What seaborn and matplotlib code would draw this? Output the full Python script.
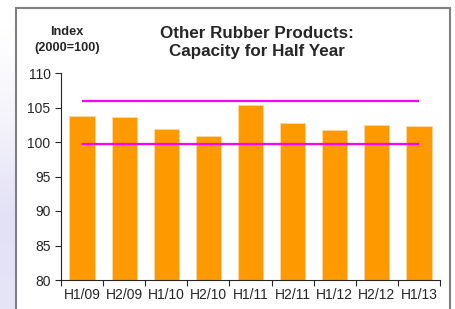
import matplotlib
matplotlib.use("Agg")
import matplotlib.pyplot as plt
from matplotlib.patches import Rectangle
import numpy as np
import pandas as pd
import seaborn as sns

# data
periods = ["H1/09", "H2/09", "H1/10", "H2/10", "H1/11", "H2/11", "H1/12", "H2/12", "H1/13"]
capacity = [103.8, 103.6, 101.9, 100.9, 105.4, 102.8, 101.8, 102.4, 102.3]
ref_lines = [105.9, 99.7]

sns.set_style("ticks")
plt.rcParams["font.family"] = ["Liberation Sans", "DejaVu Sans"]

df = pd.DataFrame({"period": periods, "capacity": capacity})

fig = plt.figure(figsize=(4.56, 3.09), dpi=100)
fig.patch.set_facecolor("white")

# pale lavender strip on the left, outside the frame
strip = fig.add_axes([0, 0, 16 / 456, 1 - 28 / 309])
grad = np.linspace(0, 1, 100).reshape(-1, 1)
strip.imshow(grad, aspect="auto", cmap=matplotlib.colors.LinearSegmentedColormap.from_list(
    "lav", ["#e6e4f6", "#e3e1f6", "#f4f3fb", "#ffffff"]), origin="lower", extent=[0, 1, 0, 1])
strip.axis("off")

# grey frame around the chart
fig.add_artist(Rectangle((16 / 456, -0.1), (450 - 16) / 456, 1.1 - 8 / 309,
                         transform=fig.transFigure, fill=False,
                         edgecolor="#808080", linewidth=1.5))

ax = fig.add_axes([61 / 456, 1 - 280 / 309, 379 / 456, 207 / 309])
sns.barplot(data=df, x="period", y="capacity", color="#FF9900", saturation=1,
            width=0.6, edgecolor="#FFD9A0", linewidth=0.6, ax=ax)

for v in ref_lines:
    ax.hlines(v, 0, len(periods) - 1, color="#FF00FF", linewidth=1.6, zorder=3)

ax.set_ylim(80, 110)
ax.set_yticks(range(80, 111, 5))
ax.set_xlim(-0.5, len(periods) - 0.5)
ax.set_xticks(np.arange(-0.5, len(periods), 1), minor=True)
ax.tick_params(axis="x", which="major", length=0, labelsize=10, pad=6)
ax.tick_params(axis="x", which="minor", length=4, width=0.8, direction="out")
ax.tick_params(axis="y", length=4, width=0.8, labelsize=10)
ax.set_xlabel("")
ax.set_ylabel("")
sns.despine(ax=ax)
for s in ["left", "bottom"]:
    ax.spines[s].set_linewidth(0.8)

fig.text(257 / 456, 1 - 42.5 / 309, "Other Rubber Products:\nCapacity for Half Year",
         ha="center", va="center", fontsize=12.25, fontweight="bold", linespacing=1.25)
fig.text(67 / 456, 1 - 40 / 309, "Index\n(2000=100)", ha="center", va="center",
         fontsize=9.2, fontweight="bold", linespacing=1.35)

fig.savefig("out.png", dpi=100)
